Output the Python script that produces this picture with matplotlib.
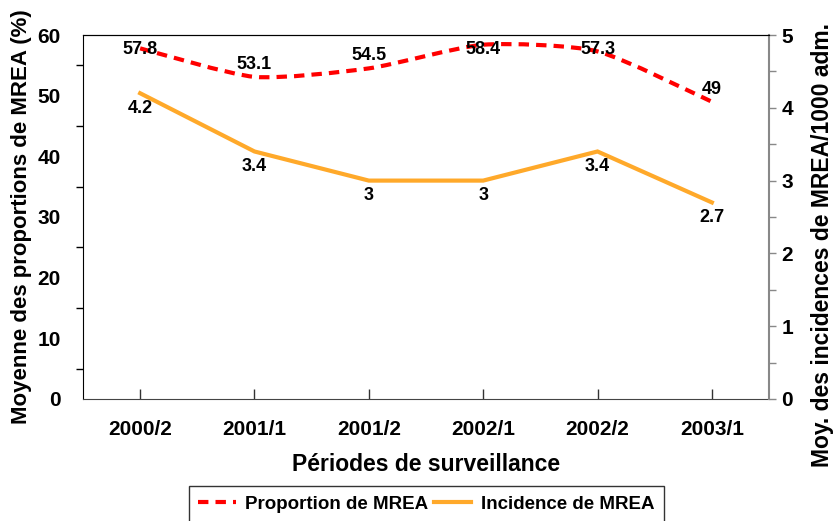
import matplotlib

matplotlib.use("Agg")
import matplotlib.pyplot as plt
import numpy as np
from matplotlib.path import Path
from matplotlib.patches import PathPatch
from matplotlib.lines import Line2D

plt.rcParams["font.family"] = ["Liberation Sans", "DejaVu Sans"]
plt.rcParams["font.weight"] = "bold"

periods = ["2000/2", "2001/1", "2001/2", "2002/1", "2002/2", "2003/1"]
proportion = [57.8, 53.1, 54.5, 58.4, 57.3, 49]
incidence = [4.2, 3.4, 3, 3, 3.4, 2.7]

RED = "#ff0000"
ORANGE = "#ffa92a"
DASH = (0, (2.5, 1.7))


def smooth_path(xs, ys, k=0.11):
    # bezier through the points, like the office "smoothed line"
    xs = np.asarray(xs, float)
    ys = np.asarray(ys, float)
    verts = [(xs[0], ys[0])]
    codes = [Path.MOVETO]
    n = len(xs)
    for i in range(n - 1):
        i0 = max(i - 1, 0)
        i3 = min(i + 2, n - 1)
        c1 = (xs[i] + (xs[i + 1] - xs[i0]) * k, ys[i] + (ys[i + 1] - ys[i0]) * k)
        c2 = (xs[i + 1] - (xs[i3] - xs[i]) * k, ys[i + 1] - (ys[i3] - ys[i]) * k)
        verts += [c1, c2, (xs[i + 1], ys[i + 1])]
        codes += [Path.CURVE4] * 3
    return Path(verts, codes)


fig = plt.figure(figsize=(8.39, 5.21), dpi=100)
ax = fig.add_axes([0.0989, 0.2342, 0.8177, 0.6986])
ax2 = ax.twinx()

x = np.arange(len(periods))

patch = PathPatch(smooth_path(x, proportion), facecolor="none", edgecolor=RED,
                  lw=3, linestyle=DASH, zorder=3)
ax.add_patch(patch)
ax2.plot(x, incidence, color=ORANGE, lw=3, solid_joinstyle="miter", zorder=3)

ax.set_xlim(-0.5, len(periods) - 0.5)
ax.set_ylim(0, 60)
ax2.set_ylim(0, 5)

# data labels (office keeps them inside the plot area)
for xi, v in zip(x, proportion):
    ax.annotate(f"{v:g}", (xi, min(v, 55.5)), xytext=(0, 9), textcoords="offset points",
                ha="center", va="center", fontsize=13, fontweight="bold", zorder=5)
for xi, v in zip(x, incidence):
    ax2.annotate(f"{v:g}", (xi, v), xytext=(0, -11), textcoords="offset points",
                 ha="center", va="center", fontsize=13, fontweight="bold", zorder=5)

# x axis
ax.set_xticks(x)
ax.set_xticklabels(periods, fontsize=15, fontweight="bold")
ax.tick_params(axis="x", direction="in", length=7, width=1, color="#333333", pad=15)

# left axis: labels on tens, tick marks on fives
ax.set_yticks(np.arange(0, 61, 10))
ax.set_yticklabels([f"{t}" for t in range(0, 61, 10)], fontsize=15, fontweight="bold")
ax.set_yticks(np.arange(5, 60, 10), minor=True)
ax.tick_params(axis="y", which="major", length=0, pad=16)
ax.tick_params(axis="y", which="minor", length=5, width=1, color="black")

# right axis
ax2.set_yticks(np.arange(0, 5.1, 1))
ax2.set_yticklabels([f"{t}" for t in range(0, 6)], fontsize=15, fontweight="bold")
ax2.set_yticks(np.arange(0.5, 5, 1), minor=True)
ax2.tick_params(axis="y", which="both", length=5, width=1, color="#888888", pad=4)

for sp in ["left", "top"]:
    ax.spines[sp].set_color("black")
ax.spines["bottom"].set_color("#444444")
ax.spines["right"].set_visible(False)
ax2.spines["left"].set_visible(False)
ax2.spines["top"].set_color("black")
ax2.spines["bottom"].set_visible(False)
ax2.spines["right"].set_color("#888888")
ax2.spines["right"].set_linewidth(1.5)

ax.set_xlabel("Périodes de surveillance", fontsize=16.5, fontweight="bold", labelpad=10)
fig.text(22 / 839, 1 - 217 / 521, "Moyenne des proportions de MREA (%)", rotation=90,
         ha="center", va="center", fontsize=16, fontweight="bold")
fig.text(822 / 839, 1 - 245 / 521, "Moy. des incidences de MREA/1000 adm.", rotation=90,
         ha="center", va="center", fontsize=16.5, fontweight="bold")

handles = [
    Line2D([], [], color=RED, lw=3, linestyle=DASH),
    Line2D([], [], color=ORANGE, lw=3),
]
leg = fig.legend(handles, ["Proportion de MREA", "Incidence de MREA"], loc="lower center",
                 bbox_to_anchor=(0.508, -0.02), ncol=2, fontsize=13.5, frameon=True,
                 fancybox=False, edgecolor="black", handlelength=2.0, handletextpad=0.5,
                 columnspacing=0.3, borderpad=0.5)
leg.get_frame().set_linewidth(1)

fig.savefig("out.png", dpi=100)
